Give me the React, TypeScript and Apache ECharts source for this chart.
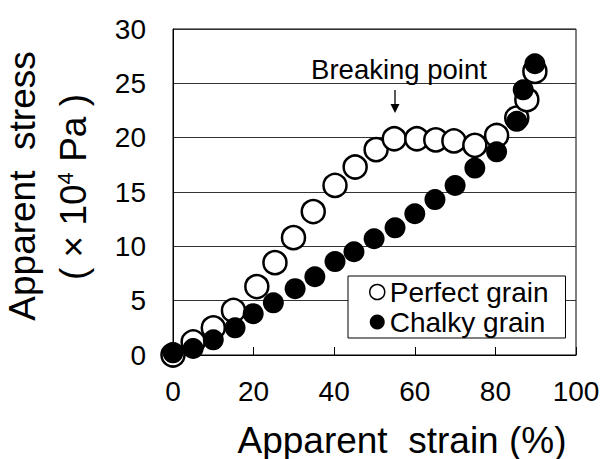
import React, { useEffect, useRef } from "react";
import * as echarts from "echarts";

const perfectX = [0, 5, 10, 15, 20.8, 25.3, 29.9, 34.8, 40.2, 45.2, 50.4, 54.9, 60.5, 65.2, 69.7, 74.9, 80.3, 85.3, 87.8, 89.8];
const perfectY = [0, 1.2, 2.5, 4.1, 6.3, 8.5, 10.8, 13.2, 15.6, 17.3, 18.9, 19.9, 19.9, 19.8, 19.7, 19.3, 20.2, 21.8, 23.5, 26.1];
const chalkyX = [0, 5, 10, 15.4, 19.9, 24.9, 30.3, 35.2, 40.2, 44.9, 49.9, 55.1, 60, 65, 70, 74.9, 80.3, 85.3, 86.9, 89.8];
const chalkyY = [0.2, 0.6, 1.4, 2.5, 3.8, 4.8, 6.1, 7.2, 8.6, 9.5, 10.7, 11.7, 13.0, 14.3, 15.6, 17.2, 18.7, 21.5, 24.4, 26.8];

const seriesNames = ["Perfect grain", "Chalky grain"];
const xTitle = "Apparent\u00a0 strain (%)";
const yTitle1 = "Apparent\u00a0 stress";
const annotation = "Breaking point";

const FONT = "'Liberation Sans', Arial, sans-serif";

export default function App() {
  const ref = useRef<HTMLDivElement>(null);
  useEffect(() => {
    if (!ref.current) return;
    const chart = echarts.init(ref.current, undefined, { renderer: "svg" });
    const pair = (xs: number[], ys: number[]) => xs.map((x, i) => [x, ys[i]]);
    chart.setOption({
      animation: false,
      backgroundColor: "#fff",
      textStyle: { fontFamily: FONT },
      grid: {
        left: 173, top: 29, width: 403, height: 326,
        show: true, borderColor: "#000", borderWidth: 1, backgroundColor: "transparent",
      },
      xAxis: {
        type: "value", min: 0, max: 100, interval: 20,
        axisLine: { show: true, lineStyle: { color: "#000", width: 1 } },
        axisTick: { show: true, inside: true, length: 8, lineStyle: { color: "#000" } },
        axisLabel: { fontSize: 28, color: "#000", margin: 22, fontFamily: FONT },
        splitLine: { show: false },
      },
      yAxis: {
        type: "value", min: 0, max: 30, interval: 5,
        axisLine: { show: true, lineStyle: { color: "#000", width: 1 } },
        axisTick: { show: false },
        axisLabel: { fontSize: 28, color: "#000", margin: 27, fontFamily: FONT },
        splitLine: { show: true, lineStyle: { color: "#333", width: 1 } },
      },
      legend: {
        orient: "vertical",
        left: 348, top: 276,
        padding: [2, 17, 2, 21],
        itemGap: 2,
        itemWidth: 15, itemHeight: 15,
        itemTextGap: 7,
        backgroundColor: "#fff",
        borderColor: "#000", borderWidth: 1,
        textStyle: { fontSize: 28, color: "#000", lineHeight: 28, fontFamily: FONT },
        data: [
          { name: seriesNames[0], icon: "circle", itemStyle: { color: "#fff", borderColor: "#000", borderWidth: 1.5 } },
          { name: seriesNames[1], icon: "circle", itemStyle: { color: "#000", borderWidth: 0 } },
        ],
      },
      series: [
        {
          name: seriesNames[0], type: "scatter", symbol: "circle", symbolSize: 23,
          itemStyle: { color: "#fff", borderColor: "#000", borderWidth: 2.5, opacity: 1 },
          data: pair(perfectX, perfectY), z: 3,
        },
        {
          name: seriesNames[1], type: "scatter", symbol: "circle", symbolSize: 21,
          itemStyle: { color: "#000", borderWidth: 0, opacity: 1 },
          data: pair(chalkyX, chalkyY), z: 4,
        },
      ],
      graphic: [
        {
          type: "text", x: 402, y: 440, z: 10,
          style: { text: xTitle, fontSize: 37, fontFamily: FONT, fill: "#000", align: "center", verticalAlign: "middle" },
        },
        {
          type: "text", x: 22, y: 186, rotation: Math.PI / 2, z: 10,
          style: { text: yTitle1, fontSize: 37, fontFamily: FONT, fill: "#000", align: "center", verticalAlign: "middle" },
        },
        {
          type: "text", x: 73, y: 187, rotation: Math.PI / 2, z: 10,
          style: {
            text: "{n|( × 10}{s|4}{n| Pa )}",
            fontFamily: FONT, fill: "#000", align: "center", verticalAlign: "middle",
            rich: {
              n: { fontSize: 37, fontFamily: FONT, fill: "#000", lineHeight: 37 },
              s: { fontSize: 22, fontFamily: FONT, fill: "#000", verticalAlign: "top", lineHeight: 22 },
            },
          },
        },
        {
          type: "text", x: 399, y: 69, z: 10,
          style: { text: annotation, fontSize: 27.5, fontFamily: FONT, fill: "#000", align: "center", verticalAlign: "middle" },
        },
        {
          type: "line", z: 10,
          shape: { x1: 395, y1: 90, x2: 395, y2: 109 },
          style: { stroke: "#000", lineWidth: 1.3 },
        },
        {
          type: "polygon", z: 10,
          shape: { points: [[390.5, 104], [399.5, 104], [395, 113]] },
          style: { fill: "#000" },
        },
      ],
    });
    return () => chart.dispose();
  }, []);
  return <div ref={ref} style={{ position: "fixed", left: 0, top: 0, width: 605, height: 459 }} />;
}
